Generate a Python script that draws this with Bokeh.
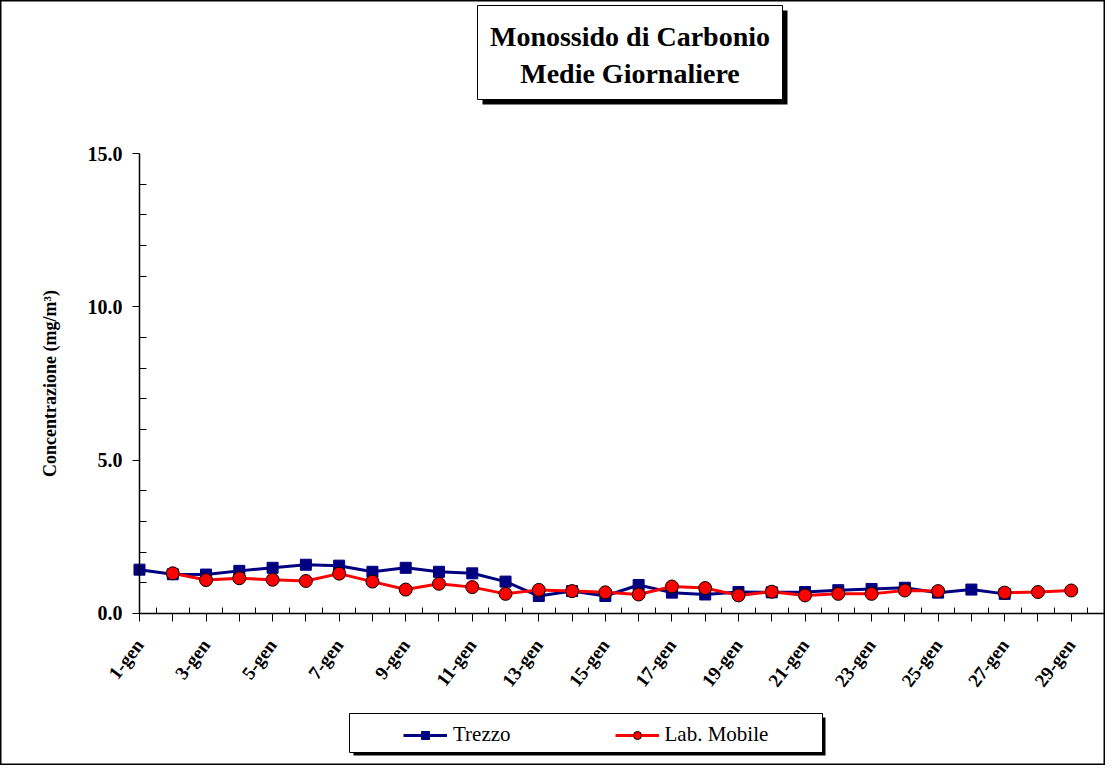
import math
from bokeh.plotting import figure
from bokeh.models import (Range1d, LinearAxis, FixedTicker, BoxAnnotation, Label,
                          Legend, LegendItem, PrintfTickFormatter)
from bokeh.embed import file_html
from bokeh.resources import INLINE

# ---------------- data ----------------
days = list(range(1, 30))
nan = float("nan")
trezzo = [1.43, 1.28, 1.27, 1.39, 1.49, 1.59, 1.56, 1.36, 1.49, 1.36,
          1.31, 1.04, 0.57, 0.73, 0.57, 0.93, 0.68, 0.62, 0.70, 0.69,
          0.70, 0.76, 0.80, 0.84, 0.68, 0.78, 0.64, nan, nan]
lab_mobile = [nan, 1.31, 1.09, 1.15, 1.10, 1.06, 1.30, 1.04, 0.78, 0.97,
              0.86, 0.64, 0.77, 0.73, 0.69, 0.62, 0.88, 0.83, 0.59, 0.71,
              0.59, 0.64, 0.64, 0.75, 0.73, nan, 0.68, 0.70, 0.75]
x_tick_labels = ["1-gen", "3-gen", "5-gen", "7-gen", "9-gen", "11-gen", "13-gen",
                 "15-gen", "17-gen", "19-gen", "21-gen", "23-gen", "25-gen",
                 "27-gen", "29-gen"]
y_ticks = [0, 5, 10, 15]
series_names = ["Trezzo", "Lab. Mobile"]
title_lines = ["Monossido di Carbonio", "Medie Giornaliere"]
y_label = "Concentrazione (mg/m\u00b3)"

FONT = "Liberation Serif"
W, H = 1105, 765

p = figure(width=W, height=H, output_backend="svg", toolbar_location=None,
           x_axis_location=None, y_axis_location=None,
           x_range=Range1d(-3.177, 30.03), y_range=Range1d(-4.957, 19.99),
           min_border=0, min_border_left=0, min_border_right=0,
           min_border_top=0, min_border_bottom=0)
p.xgrid.visible = False
p.ygrid.visible = False
p.outline_line_color = "black"
p.outline_line_width = 2
p.background_fill_color = "white"
p.border_fill_color = "white"

# ---------------- axes ----------------
yaxis = LinearAxis(fixed_location=1, bounds=(0, 15))
yaxis.ticker = FixedTicker(ticks=y_ticks, minor_ticks=[v for v in range(0, 16) if v % 5])
yaxis.formatter = PrintfTickFormatter(format="%.1f")
yaxis.axis_line_color = "black"
yaxis.axis_line_width = 1.5
yaxis.major_tick_out = 7
yaxis.major_tick_in = 0
yaxis.minor_tick_in = 7
yaxis.minor_tick_out = 0
yaxis.major_label_text_font = FONT
yaxis.major_label_text_font_style = "bold"
yaxis.major_label_text_font_size = "20px"
yaxis.major_label_text_color = "black"
yaxis.major_label_standoff = 10
yaxis.axis_label = y_label
yaxis.axis_label_text_font = FONT
yaxis.axis_label_text_font_style = "bold"
yaxis.axis_label_text_font_size = "18px"
yaxis.axis_label_text_color = "black"
yaxis.axis_label_standoff = 25
p.add_layout(yaxis, "left")

overrides = {d: "" for d in days}
for lab in x_tick_labels:
    overrides[int(lab.split("-")[0])] = lab
xaxis = LinearAxis(fixed_location=0, bounds=(1, 30))
xaxis.ticker = FixedTicker(ticks=days, minor_ticks=[d + 0.5 for d in days])
xaxis.major_label_overrides = overrides
xaxis.axis_line_color = "black"
xaxis.axis_line_width = 1.5
xaxis.major_tick_out = 8
xaxis.major_tick_in = 0
xaxis.minor_tick_in = 6
xaxis.minor_tick_out = 0
xaxis.major_label_orientation = 0.92
xaxis.major_label_text_font = FONT
xaxis.major_label_text_font_style = "bold"
xaxis.major_label_text_font_size = "19px"
xaxis.major_label_text_color = "black"
xaxis.major_label_standoff = 20
p.add_layout(xaxis, "below")

# ---------------- series ----------------
l1 = p.line(days, trezzo, line_color="#000080", line_width=3)
s1 = p.scatter(days, trezzo, marker="square", size=11, fill_color="#000080",
               line_color="#000080")
l2 = p.line(days, lab_mobile, line_color="#FF0000", line_width=3)
s2 = p.scatter(days, lab_mobile, marker="circle", size=13, fill_color="#FF0000",
               line_color="black", line_width=1)

# ---------------- title box ----------------
def box(l, r, t, b, fill, line):
    return BoxAnnotation(left=l, right=r, top=t, bottom=b,
                         left_units="screen", right_units="screen",
                         top_units="screen", bottom_units="screen",
                         fill_color=fill, fill_alpha=1,
                         line_color=line, line_width=1, line_alpha=1 if line else 0)

p.add_layout(box(482, 787, 755, 661, "black", None))
p.add_layout(box(477, 782, 760, 666, "white", "black"))
for txt, yb in zip(title_lines, [729, 692]):
    p.add_layout(Label(x=629.5, y=yb, x_units="screen", y_units="screen", text=txt,
                       text_align="center", text_baseline="alphabetic",
                       text_font=FONT, text_font_style="bold",
                       text_font_size="28px", text_color="black"))

# ---------------- legend ----------------
p.add_layout(box(353, 825, 48, 10, "black", None))
p.add_layout(box(349, 822, 52, 13, "white", "black"))
legend = Legend(items=[LegendItem(label=series_names[0], renderers=[l1, s1]),
                       LegendItem(label=series_names[1], renderers=[l2, s2])],
                orientation="horizontal", location=(403, 18), margin=0, padding=9,
                spacing=104, label_standoff=6, glyph_width=44, glyph_height=20,
                label_text_font=FONT, label_text_font_size="21px",
                label_text_color="black", background_fill_alpha=0,
                border_line_color=None)
p.add_layout(legend, "center")

open("out.html", "w").write(file_html(p, INLINE))
